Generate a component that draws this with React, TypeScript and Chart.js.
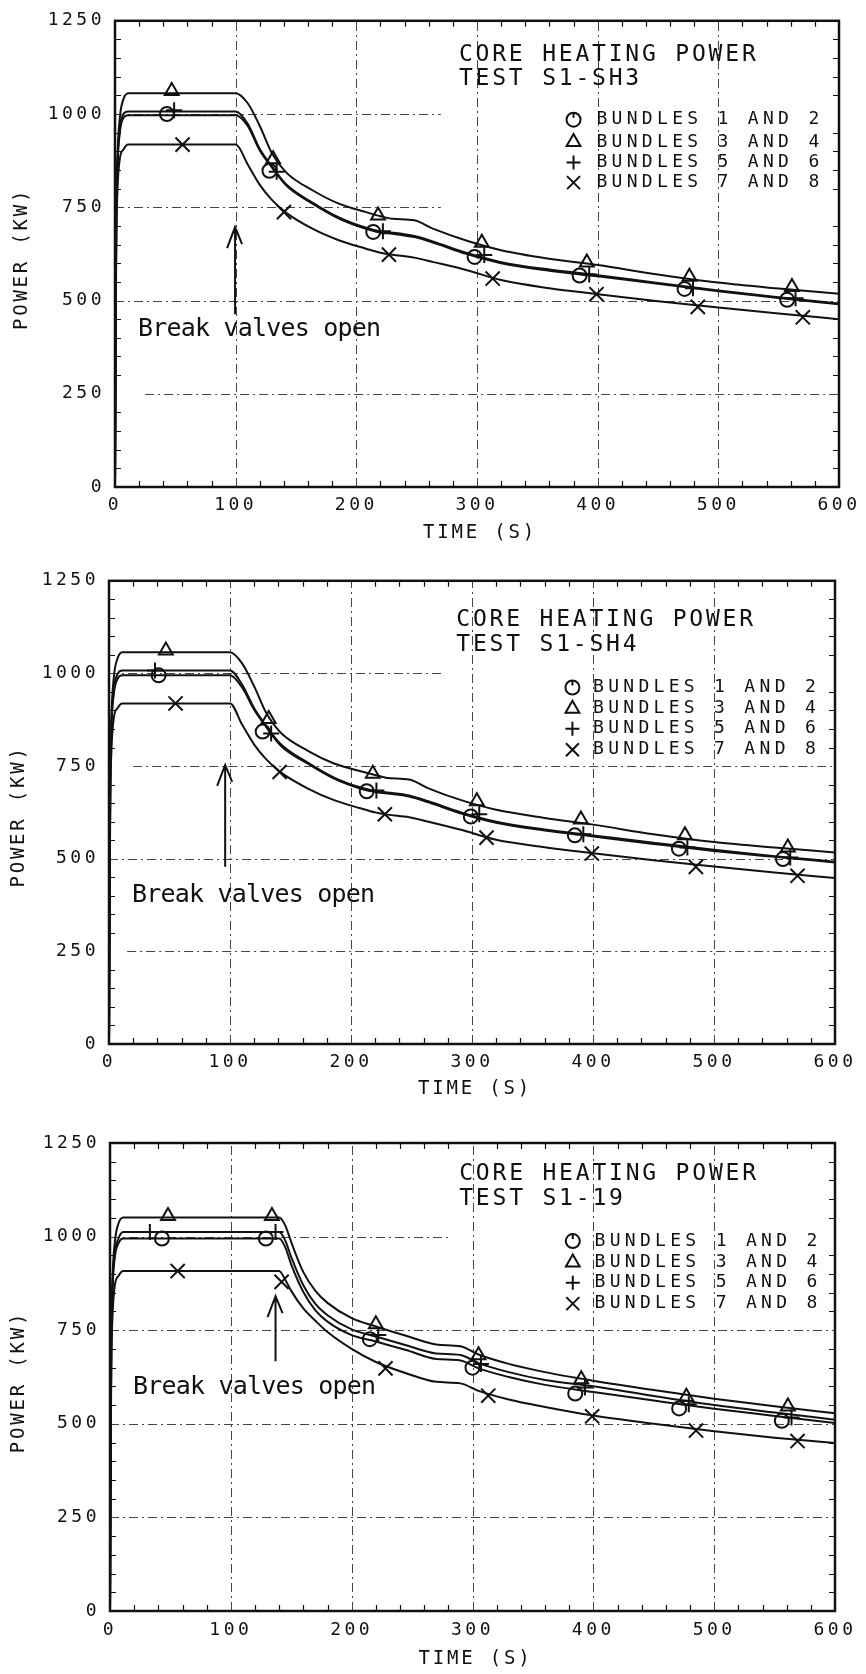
import React, { useEffect, useRef } from 'react';
import { Chart, registerables } from 'chart.js';

Chart.register(...registerables);

// ---------------- data ----------------
const X_TICKS = [0, 100, 200, 300, 400, 500, 600];
const Y_TICKS = [0, 250, 500, 750, 1000, 1250];
const SERIES_LABELS = ['BUNDLES 1 AND 2', 'BUNDLES 3 AND 4', 'BUNDLES 5 AND 6', 'BUNDLES 7 AND 8'];
const CHART_TITLE = 'CORE HEATING POWER';
const TEST_NAMES = ['TEST S1-SH3', 'TEST S1-SH4', 'TEST S1-19'];
const ANNOTATION = 'Break valves open';
const X_TITLE = 'TIME (S)';
const Y_TITLE = 'POWER (KW)';

// Test S1-SH3
const T_SH3 = [0, 1, 2, 4, 7, 11, 100, 110, 120, 130, 142, 164, 186, 208, 220, 230, 248, 264, 291, 320, 360, 400, 450, 500, 550, 600];
const SH3_B12 = [0, 680, 850, 950, 990, 997, 997, 968, 902, 857, 808, 759, 719, 692, 682, 679, 670, 655, 625, 600, 580, 565, 545, 525, 507, 490];
const SH3_B34 = [0, 700, 880, 990, 1040, 1056, 1056, 1029, 968, 895, 843, 795, 759, 737, 726, 719, 715, 692, 661, 635, 612, 595, 570, 548, 532, 518];
const SH3_B56 = [0, 690, 860, 960, 1000, 1007, 1007, 974, 906, 860, 811, 762, 722, 695, 685, 682, 673, 658, 628, 603, 583, 568, 547, 527, 509, 492];
const SH3_B78 = [0, 640, 790, 880, 905, 918, 918, 865, 810, 770, 735, 692, 661, 639, 628, 623, 615, 603, 582, 555, 533, 517, 498, 481, 465, 450];
const SH3_B12_MT = [43, 128, 214, 298, 385, 472, 557];
const SH3_B12_MV = [1000, 848, 684, 617, 567, 531, 502];
const SH3_B34_MT = [47, 131, 218, 304, 391, 476, 561];
const SH3_B34_MV = [1062, 879, 728, 655, 602, 564, 536];
const SH3_B56_MT = [49, 134, 222, 306, 393, 479, 564];
const SH3_B56_MV = [1010, 845, 686, 622, 570, 533, 506];
const SH3_B78_MT = [56, 140, 227, 313, 399, 483, 570];
const SH3_B78_MV = [918, 737, 623, 559, 517, 483, 455];

// Test S1-SH4
const T_SH4 = [0, 1, 2, 4, 7, 11, 100, 110, 120, 130, 142, 164, 186, 208, 220, 230, 248, 264, 291, 320, 360, 400, 450, 500, 550, 600];
const SH4_B12 = [0, 680, 850, 945, 985, 995, 995, 962, 902, 855, 805, 757, 716, 689, 680, 676, 668, 652, 622, 597, 576, 560, 540, 521, 505, 490];
const SH4_B34 = [0, 700, 880, 990, 1040, 1057, 1057, 1027, 965, 893, 840, 792, 757, 736, 726, 718, 714, 690, 658, 632, 610, 592, 566, 545, 530, 517];
const SH4_B56 = [0, 690, 860, 958, 998, 1008, 1008, 970, 906, 858, 809, 760, 719, 692, 683, 679, 671, 655, 625, 600, 579, 563, 543, 524, 507, 492];
const SH4_B78 = [0, 640, 790, 880, 906, 919, 919, 862, 808, 768, 733, 690, 658, 636, 625, 619, 612, 600, 578, 551, 531, 515, 496, 479, 463, 448];
const SH4_B12_MT = [41, 127, 213, 299, 385, 471, 557];
const SH4_B12_MV = [995, 843, 682, 614, 563, 527, 499];
const SH4_B34_MT = [47, 132, 218, 304, 390, 476, 561];
const SH4_B34_MV = [1062, 877, 729, 655, 606, 563, 530];
const SH4_B56_MT = [38, 134, 221, 306, 392, 478, 563];
const SH4_B56_MV = [1008, 838, 684, 620, 566, 530, 503];
const SH4_B78_MT = [55, 141, 228, 312, 399, 485, 569];
const SH4_B78_MV = [919, 734, 620, 557, 514, 478, 454];

// Test S1-19
const T_S19 = [0, 1, 2, 4, 7, 11, 140, 145, 150, 160, 170, 180, 200, 220, 245, 270, 290, 305, 330, 360, 400, 450, 500, 550, 600];
const S19_B12 = [0, 680, 850, 945, 982, 995, 995, 972, 925, 852, 803, 773, 737, 720, 697, 673, 669, 648, 625, 604, 585, 562, 540, 521, 502];
const S19_B34 = [0, 700, 880, 985, 1035, 1051, 1051, 1030, 985, 905, 855, 823, 782, 760, 735, 712, 707, 685, 660, 638, 615, 590, 567, 547, 528];
const S19_B56 = [0, 690, 860, 955, 995, 1012, 1012, 990, 945, 870, 820, 790, 752, 733, 710, 688, 684, 662, 638, 617, 600, 574, 550, 530, 511];
const S19_B78 = [0, 640, 780, 870, 895, 908, 908, 885, 855, 808, 775, 745, 700, 665, 635, 612, 608, 588, 565, 545, 522, 500, 480, 463, 449];
const S19_B12_MT = [43, 129, 215, 300, 385, 471, 556];
const S19_B12_MV = [995, 995, 726, 650, 581, 541, 508];
const S19_B34_MT = [48, 134, 220, 305, 390, 477, 561];
const S19_B34_MV = [1055, 1055, 766, 683, 619, 572, 546];
const S19_B56_MT = [33, 137, 222, 307, 393, 479, 564];
const S19_B56_MV = [1012, 1012, 737, 660, 597, 552, 517];
const S19_B78_MT = [56, 142, 228, 313, 399, 485, 569];
const S19_B78_MV = [908, 879, 648, 575, 520, 482, 454];

// ---------------- layout / style ----------------
const FONT = '"DejaVu Sans Mono", "Liberation Mono", monospace';
const INK = '#111111';
const MARKER_STYLES = [
  { pointStyle: 'circle', radius: 7 },
  { pointStyle: 'triangle', radius: 8 },
  { pointStyle: 'cross', radius: 8 },
  { pointStyle: 'crossRot', radius: 10 },
];

const VGRID = [[100, 0, 1250], [200, 0, 1250], [300, 0, 1250], [400, 0, 1250], [500, 0, 1250]];

const PANELS = [
  {
    top: 0, height: 560, area: { left: 115, right: 839, top: 17, bottom: 487 },
    time: T_SH3, series: [SH3_B12, SH3_B34, SH3_B56, SH3_B78],
    marks: [[SH3_B12_MT, SH3_B12_MV], [SH3_B34_MT, SH3_B34_MV], [SH3_B56_MT, SH3_B56_MV], [SH3_B78_MT, SH3_B78_MV]],
    test: TEST_NAMES[0],
    titleT: 285, title1V: 1158, title2V: 1093,
    legMarkT: 380, legTextT: 399, legV: [985, 925, 870, 816],
    breakT: 19, breakV: 423, arrowT: 99.5, arrowTipV: 697, arrowBaseV: 463,
    hGrid: [[1000, 0, 270], [750, 0, 270], [500, 0, 600], [250, 25, 600]],
    vGrid: VGRID,
    yTitleX: 22, yTitleDy: 5, xTitleDy: 46, xTickPad: 8,
  },
  {
    top: 560, height: 560, area: { left: 109, right: 835, top: 15, bottom: 484 },
    time: T_SH4, series: [SH4_B12, SH4_B34, SH4_B56, SH4_B78],
    marks: [[SH4_B12_MT, SH4_B12_MV], [SH4_B34_MT, SH4_B34_MV], [SH4_B56_MT, SH4_B56_MV], [SH4_B78_MT, SH4_B78_MV]],
    test: TEST_NAMES[1],
    titleT: 287, title1V: 1143, title2V: 1077,
    legMarkT: 383, legTextT: 400, legV: [962, 905, 851, 794],
    breakT: 19, breakV: 402, arrowT: 96, arrowTipV: 753, arrowBaseV: 478,
    hGrid: [[1000, 0, 275], [750, 20, 600], [500, 0, 600], [250, 15, 600]],
    vGrid: VGRID,
    yTitleX: 19, yTitleDy: 4, xTitleDy: 45, xTickPad: 8,
  },
  {
    top: 1120, height: 554, area: { left: 110, right: 835, top: 23, bottom: 491 },
    time: T_S19, series: [S19_B12, S19_B34, S19_B56, S19_B78],
    marks: [[S19_B12_MT, S19_B12_MV], [S19_B34_MT, S19_B34_MV], [S19_B56_MT, S19_B56_MV], [S19_B78_MT, S19_B78_MV]],
    test: TEST_NAMES[2],
    titleT: 289, title1V: 1168, title2V: 1101,
    legMarkT: 383, legTextT: 401, legV: [988, 931, 877, 821],
    breakT: 19, breakV: 596, arrowT: 137, arrowTipV: 841, arrowBaseV: 667,
    hGrid: [[1000, 0, 280], [750, 0, 600], [500, 0, 600], [250, 0, 600]],
    vGrid: VGRID,
    yTitleX: 19, yTitleDy: 5, xTitleDy: 48, xTickPad: 9,
  },
];

function drawLegendMarker(ctx: CanvasRenderingContext2D, i: number, x: number, y: number) {
  ctx.beginPath();
  if (i === 0) {
    ctx.arc(x, y, 7, 0, Math.PI * 2);
    ctx.moveTo(x, y - 7);
    ctx.lineTo(x, y - 2);
  } else if (i === 1) {
    ctx.moveTo(x, y - 8);
    ctx.lineTo(x + 6.9, y + 4);
    ctx.lineTo(x - 6.9, y + 4);
    ctx.closePath();
  } else if (i === 2) {
    ctx.moveTo(x - 7, y); ctx.lineTo(x + 7, y);
    ctx.moveTo(x, y - 7); ctx.lineTo(x, y + 7);
  } else {
    ctx.moveTo(x - 6.5, y - 6.5); ctx.lineTo(x + 6.5, y + 6.5);
    ctx.moveTo(x + 6.5, y - 6.5); ctx.lineTo(x - 6.5, y + 6.5);
  }
  ctx.stroke();
}

function makeDecor(p: any) {
  return {
    id: 'decor',
    beforeDraw(chart: any) {
      chart.ctx.letterSpacing = '3.5px';
    },
    beforeDatasetsDraw(chart: any) {
      const ctx = chart.ctx;
      const xs = chart.scales.x, ys = chart.scales.y;
      ctx.save();
      ctx.letterSpacing = '0px';
      ctx.strokeStyle = '#444444';
      ctx.lineWidth = 1;
      ctx.setLineDash([9, 4, 2, 4]);
      ctx.beginPath();
      for (const [v, t0, t1] of p.hGrid) {
        const y = Math.round(ys.getPixelForValue(v)) + 0.5;
        ctx.moveTo(xs.getPixelForValue(t0), y);
        ctx.lineTo(xs.getPixelForValue(t1), y);
      }
      for (const [t, v0, v1] of p.vGrid) {
        const x = Math.round(xs.getPixelForValue(t)) + 0.5;
        ctx.moveTo(x, ys.getPixelForValue(v0));
        ctx.lineTo(x, ys.getPixelForValue(v1));
      }
      ctx.stroke();
      ctx.restore();
    },
    afterDatasetsDraw(chart: any) {
      const ctx = chart.ctx;
      const a = chart.chartArea;
      const xs = chart.scales.x, ys = chart.scales.y;
      const X = (t: number) => xs.getPixelForValue(t);
      const Y = (v: number) => ys.getPixelForValue(v);
      ctx.save();
      ctx.setLineDash([]);
      ctx.strokeStyle = INK;
      ctx.fillStyle = INK;
      // frame
      ctx.lineWidth = 2.5;
      ctx.strokeRect(a.left, a.top, a.right - a.left, a.bottom - a.top);
      // inner minor ticks
      ctx.lineWidth = 1.2;
      ctx.beginPath();
      for (let t = 20; t < 600; t += 20) {
        if (t % 100 === 0) continue;
        const x = Math.round(X(t)) + 0.5;
        ctx.moveTo(x, a.bottom); ctx.lineTo(x, a.bottom - 6);
        ctx.moveTo(x, a.top); ctx.lineTo(x, a.top + 6);
      }
      for (let v = 50; v < 1250; v += 50) {
        if (v % 250 === 0) continue;
        const y = Math.round(Y(v)) + 0.5;
        ctx.moveTo(a.left, y); ctx.lineTo(a.left + 6, y);
        ctx.moveTo(a.right, y); ctx.lineTo(a.right - 6, y);
      }
      ctx.stroke();

      ctx.textBaseline = 'middle';
      ctx.textAlign = 'left';
      // title
      ctx.font = `23px ${FONT}`;
      ctx.letterSpacing = '2.8px';
      ctx.fillText(CHART_TITLE, X(p.titleT), Y(p.title1V));
      ctx.fillText(p.test, X(p.titleT), Y(p.title2V));
      // legend
      ctx.font = `18px ${FONT}`;
      ctx.letterSpacing = '4.3px';
      ctx.lineWidth = 2;
      SERIES_LABELS.forEach((lab, i) => {
        drawLegendMarker(ctx, i, X(p.legMarkT), Y(p.legV[i]));
        ctx.fillText(lab, X(p.legTextT), Y(p.legV[i]));
      });
      // annotation
      ctx.font = `25px ${FONT}`;
      ctx.letterSpacing = '-0.8px';
      ctx.fillText(ANNOTATION, X(p.breakT), Y(p.breakV));
      const ax = X(p.arrowT), ty = Y(p.arrowTipV), by = Y(p.arrowBaseV);
      ctx.lineWidth = 2;
      ctx.beginPath();
      ctx.moveTo(ax, by); ctx.lineTo(ax, ty);
      ctx.moveTo(ax - 8, ty + 21); ctx.lineTo(ax, ty); ctx.lineTo(ax + 7, ty + 17);
      ctx.stroke();
      // axis titles
      ctx.font = `19px ${FONT}`;
      ctx.letterSpacing = '2.8px';
      ctx.textAlign = 'center';
      ctx.fillText(X_TITLE, (a.left + a.right) / 2 + 3, a.bottom + p.xTitleDy);
      ctx.save();
      ctx.translate(p.yTitleX, (a.top + a.bottom) / 2 + p.yTitleDy);
      ctx.rotate(-Math.PI / 2);
      ctx.fillText(Y_TITLE, 0, 0);
      ctx.restore();
      ctx.restore();
    },
    afterDraw(chart: any) {
      chart.ctx.letterSpacing = '0px';
    },
  };
}

function buildConfig(p: any): any {
  const lineSets = p.series.map((vals: number[], i: number) => ({
    label: SERIES_LABELS[i],
    data: p.time.map((t: number, k: number) => ({ x: t, y: vals[k] })),
    showLine: true,
    borderColor: INK,
    borderWidth: 2,
    pointRadius: 0,
    cubicInterpolationMode: 'monotone',
    fill: false,
  }));
  const markSets = p.marks.map(([mt, mv]: number[][], i: number) => ({
    label: SERIES_LABELS[i] + ' markers',
    data: mt.map((t: number, k: number) => ({ x: t, y: mv[k] })),
    showLine: false,
    pointStyle: MARKER_STYLES[i].pointStyle,
    pointRadius: MARKER_STYLES[i].radius,
    pointBorderWidth: 2,
    pointBorderColor: INK,
    pointBackgroundColor: 'rgba(0,0,0,0)',
    borderColor: INK,
    backgroundColor: 'rgba(0,0,0,0)',
  }));
  return {
    type: 'scatter',
    data: { datasets: [...lineSets, ...markSets] },
    options: {
      responsive: false,
      animation: false,
      events: [],
      layout: { padding: { top: p.area.top, right: 866 - p.area.right, left: 0, bottom: 0 } },
      scales: {
        x: {
          type: 'linear', min: 0, max: 600,
          grid: { display: false, drawTicks: false },
          border: { display: false },
          ticks: {
            font: { family: FONT, size: 18 }, color: INK, padding: p.xTickPad,
            maxRotation: 0, autoSkip: false, callback: (v: any) => String(v),
          },
          afterBuildTicks: (s: any) => { s.ticks = X_TICKS.map((v) => ({ value: v })); },
          afterFit: (s: any) => { s.height = p.height - p.area.bottom; },
        },
        y: {
          type: 'linear', min: 0, max: 1250,
          grid: { display: false, drawTicks: false },
          border: { display: false },
          ticks: {
            font: { family: FONT, size: 18 }, color: INK, padding: 10,
            autoSkip: false, callback: (v: any) => String(v),
          },
          afterBuildTicks: (s: any) => { s.ticks = Y_TICKS.map((v) => ({ value: v })); },
          afterFit: (s: any) => { s.width = p.area.left; },
        },
      },
      plugins: { legend: { display: false }, tooltip: { enabled: false }, title: { display: false } },
    },
    plugins: [makeDecor(p)],
  };
}

function PanelChart({ p }: { p: any }) {
  const ref = useRef<HTMLCanvasElement | null>(null);
  useEffect(() => {
    if (!ref.current) return;
    const chart = new Chart(ref.current, buildConfig(p));
    return () => chart.destroy();
  }, [p]);
  return (
    <div style={{ position: 'absolute', left: 0, top: p.top, width: 866, height: p.height }}>
      <canvas ref={ref} width={866} height={p.height} style={{ display: 'block', width: 866, height: p.height }} />
    </div>
  );
}

export default function App() {
  return (
    <div style={{ position: 'absolute', left: 0, top: 0, width: 866, height: 1674, background: '#ffffff', overflow: 'hidden' }}>
      {PANELS.map((p, i) => <PanelChart key={i} p={p} />)}
    </div>
  );
}
